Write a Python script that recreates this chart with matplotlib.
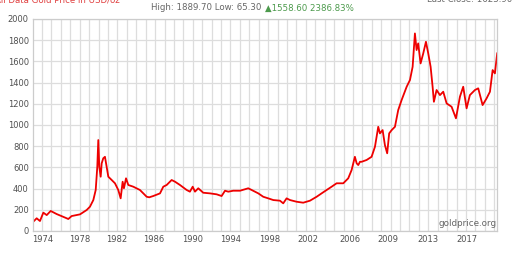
import numpy as np
import matplotlib
matplotlib.use('Agg')
import matplotlib.pyplot as plt
from matplotlib.ticker import FixedLocator

# Gold price (decimal year, USD/oz)
years = [1973.03, 1973.37, 1973.70, 1974.04, 1974.38, 1974.78, 1975.38, 1976.39, 1976.55, 1976.89,
         1977.73, 1978.40, 1978.73, 1979.07, 1979.31, 1979.47, 1979.57, 1979.67, 1979.81, 1979.91,
         1980.07, 1980.24, 1980.41, 1980.58, 1980.92, 1981.25, 1981.58, 1981.82, 1982.02, 1982.15,
         1982.36, 1982.59, 1983.09, 1983.76, 1984.44, 1984.70, 1985.10, 1985.78, 1986.11, 1986.45,
         1986.95, 1987.29, 1987.79, 1988.46, 1988.79, 1989.07, 1989.30, 1989.63, 1990.13, 1990.81,
         1991.48, 1991.98, 1992.32, 1992.65, 1993.15, 1993.83, 1994.66, 1995.00, 1995.67, 1996.17,
         1996.67, 1997.18, 1997.85, 1998.18, 1998.52, 1998.86, 1999.53, 2000.19, 2000.87, 2001.54,
         2002.04, 2002.55, 2003.05, 2003.55, 2004.22, 2004.72, 2005.06, 2005.39, 2005.57, 2005.73,
         2005.90, 2006.07, 2006.57, 2007.07, 2007.41, 2007.74, 2007.91, 2008.18, 2008.41, 2008.64,
         2008.84, 2009.09, 2009.42, 2009.75, 2010.09, 2010.60, 2010.93, 2011.20, 2011.43, 2011.60,
         2011.76, 2012.00, 2012.27, 2012.54, 2012.77, 2013.01, 2013.21, 2013.34, 2013.61, 2013.95,
         2014.28, 2014.62, 2015.12, 2015.56, 2015.96, 2016.29, 2016.63, 2016.96, 2017.47, 2017.80,
         2018.24, 2018.64, 2018.98, 2019.25, 2019.48, 2019.71]
prices = [88, 120, 94, 173, 150, 189, 160, 120, 113, 141,
          157, 198, 229, 292, 387, 606, 858, 606, 512, 638,
          686, 700, 606, 512, 481, 450, 387, 308, 465, 403,
          497, 434, 418, 387, 323, 318, 330, 355, 418, 434,
          481, 465, 434, 387, 371, 418, 371, 403, 361, 355,
          346, 330, 380, 371, 380, 380, 403, 387, 355, 323,
          308, 292, 286, 261, 308, 292, 276, 267, 286, 323,
          355, 387, 418, 450, 450, 497, 575, 700, 638, 622,
          653, 653, 670, 700, 795, 983, 921, 952, 811, 733,
          921, 952, 983, 1141, 1235, 1361, 1424, 1549, 1864, 1707,
          1770, 1581, 1676, 1785, 1676, 1549, 1361, 1219, 1330, 1282,
          1314, 1204, 1172, 1063, 1267, 1361, 1157, 1282, 1330, 1346,
          1188, 1251, 1314, 1518, 1487, 1676]

tick_labels = ['1974', '1978', '1982', '1986', '1990', '1994', '1998', '2002', '2006', '2009', '2013', '2017']
tick_pos = [1973.98, 1977.73, 1981.45, 1985.17, 1989.10, 1992.92, 1996.84, 2000.67, 2004.89, 2008.71, 2012.71, 2016.66]
y_ticks = [0, 200, 400, 600, 800, 1000, 1200, 1400, 1600, 1800, 2000]

fig = plt.figure(figsize=(5.12, 2.56), dpi=100)
ax = fig.add_axes([33 / 512, 1 - 231 / 256, 464.3 / 512, 212 / 256])

ax.plot(years, prices, color='#ee0000', linewidth=1.3)

ax.set_xlim(1973.0, 2019.72)
ax.set_ylim(0, 2000)

# labels and grid
ax.set_xticks(tick_pos)
ax.set_xticklabels(tick_labels)
ax.set_yticks(y_ticks)
ax.xaxis.set_minor_locator(FixedLocator(np.arange(1973.91, 2019.7, 0.948)))
ax.tick_params(axis='both', which='both', length=0, labelsize=6, labelcolor='#505050', pad=3)
ax.grid(True, which='minor', axis='x', color='#dddddd', linewidth=0.9)
ax.grid(True, which='major', axis='y', color='#dddddd', linewidth=0.9)
ax.set_axisbelow(True)
for s in ax.spines.values():
    s.set_color('#cccccc')
    s.set_linewidth(0.9)

ax.text(0.998, 0.015, 'goldprice.org', transform=ax.transAxes, ha='right', va='bottom',
        fontsize=6.3, color='#666666')

# header texts (the outer two sit half off the top edge, as in the source chart)
fig.text(264 / 512, 1 - 8 / 256, 'High: 1889.70 Low: 65.30 ', ha='right', va='center',
         fontsize=6.2, color='#666666')
fig.text(265 / 512, 1 - 8 / 256, '\u25b21558.60 2386.83%', ha='left', va='center',
         fontsize=6.2, color='#4c9a4c')
fig.text(-0.01, 1.0, 'All Data Gold Price in USD/oz', ha='left', va='center',
         fontsize=6.2, color='#e04040')
fig.text(1.0, 1.0, 'Last Close: 1623.90', ha='right', va='center',
         fontsize=6.2, color='#666666')

fig.savefig('out.png', dpi=100)
